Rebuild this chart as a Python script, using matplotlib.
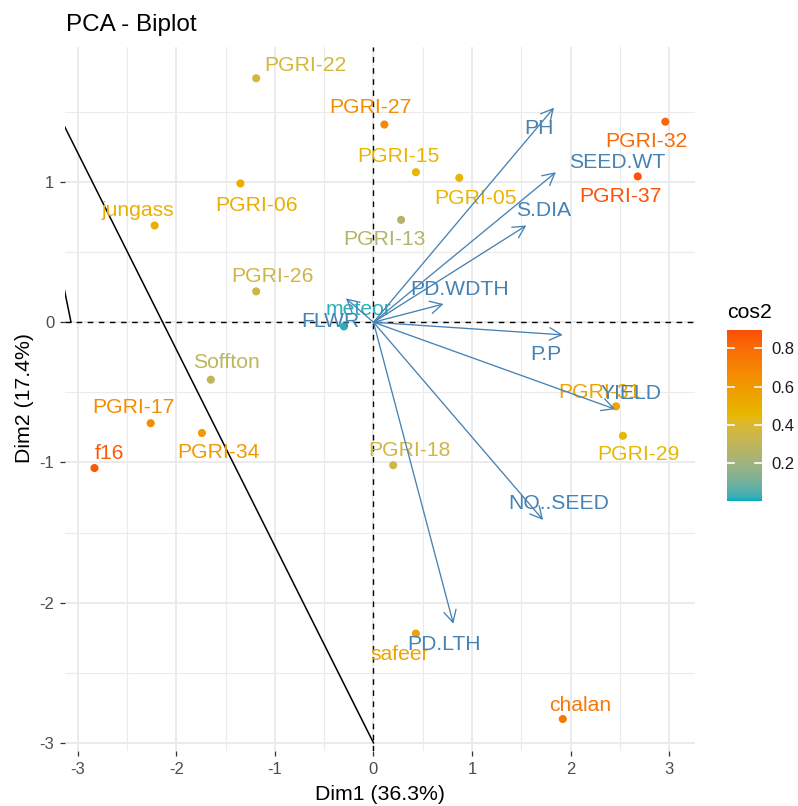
import numpy as np
import matplotlib
matplotlib.use("Agg")
import matplotlib.pyplot as plt
from matplotlib.colors import ListedColormap, Normalize
from matplotlib.cm import ScalarMappable

plt.rcParams['font.family'] = ['Liberation Sans', 'DejaVu Sans']
plt.rcParams['axes.unicode_minus'] = False

# individuals (genotypes) on the first two dimensions
ind_names = ["PGRI-22", "PGRI-27", "PGRI-15", "PGRI-05", "PGRI-32", "PGRI-37",
             "jungass", "PGRI-06", "PGRI-13", "PGRI-26", "meteor", "Soffton",
             "PGRI-17", "PGRI-34", "f16", "PGRI-18", "PGRI-31", "PGRI-29",
             "safeer", "chalan"]
ind_dim1 = [-1.19, 0.11, 0.43, 0.87, 2.96, 2.68,
            -2.22, -1.35, 0.28, -1.19, -0.30, -1.65,
            -2.26, -1.74, -2.83, 0.20, 2.46, 2.53,
            0.43, 1.92]
ind_dim2 = [1.74, 1.41, 1.07, 1.03, 1.43, 1.04,
            0.69, 0.99, 0.73, 0.22, -0.03, -0.41,
            -0.72, -0.79, -1.04, -1.02, -0.60, -0.81,
            -2.22, -2.83]
ind_cos2 = [0.38, 0.66, 0.46, 0.46, 0.80, 0.88,
            0.49, 0.50, 0.26, 0.35, 0.02, 0.30,
            0.66, 0.60, 0.86, 0.36, 0.55, 0.45,
            0.55, 0.74]

# variables (loadings, scaled)
var_names = ["PH", "SEED.WT", "S.DIA", "PD.WDTH", "P.P", "YIELD",
             "NO..SEED", "PD.LTH", "FLWR"]
var_dim1 = [1.83, 1.85, 1.55, 0.71, 1.92, 2.45, 1.72, 0.81, -0.28]
var_dim2 = [1.53, 1.07, 0.69, 0.13, -0.09, -0.62, -1.41, -2.15, 0.17]

# extra reference lines
line1_x = [-3.4, 0.0]
line1_y = [1.77, -3.0]
line2_x = [-3.3, -3.068]
line2_y = [0.80, 0.0]

# label nudges in pixels (dx right, dy down)
ind_nudge = {"PGRI-22": (49, -13), "PGRI-27": (-14, -17), "PGRI-15": (-17, -16),
             "PGRI-05": (16, 21), "PGRI-32": (-19, 20), "PGRI-37": (-17, 20),
             "jungass": (-17, -15), "PGRI-06": (16, 22), "PGRI-13": (-17, 20),
             "PGRI-26": (16, -15), "meteor": (15, -17), "Soffton": (16, -17),
             "PGRI-17": (-17, -16), "PGRI-34": (16, 19), "f16": (15, -15),
             "PGRI-18": (16, -15), "PGRI-31": (-17, -14), "PGRI-29": (16, 19),
             "safeer": (-16, 21), "chalan": (17, -14)}
var_nudge = {"PH": (-15, 21), "SEED.WT": (61, -10), "S.DIA": (17, -15),
             "PD.WDTH": (16, -15), "P.P": (-17, 20), "YIELD": (16, -16),
             "NO..SEED": (16, -16), "PD.LTH": (-9, 21), "FLWR": (-16, 23)}


# gradient interpolated in Lab space
def srgb_to_lab(hexcol):
    rgb = np.array([int(hexcol[i:i + 2], 16) for i in (1, 3, 5)]) / 255.0
    lin = np.where(rgb <= 0.04045, rgb / 12.92, ((rgb + 0.055) / 1.055) ** 2.4)
    m = np.array([[0.4124, 0.3576, 0.1805],
                  [0.2126, 0.7152, 0.0722],
                  [0.0193, 0.1192, 0.9505]])
    xyz = m @ lin / np.array([0.95047, 1.0, 1.08883])
    f = np.where(xyz > 0.008856, np.cbrt(xyz), 7.787 * xyz + 16 / 116)
    return np.array([116 * f[1] - 16, 500 * (f[0] - f[1]), 200 * (f[1] - f[2])])


def lab_to_srgb(lab):
    fy = (lab[0] + 16) / 116
    fx = fy + lab[1] / 500
    fz = fy - lab[2] / 200
    f = np.array([fx, fy, fz])
    xyz = np.where(f ** 3 > 0.008856, f ** 3, (f - 16 / 116) / 7.787)
    xyz = xyz * np.array([0.95047, 1.0, 1.08883])
    m = np.array([[3.2406, -1.5372, -0.4986],
                  [-0.9689, 1.8758, 0.0415],
                  [0.0557, -0.2040, 1.0570]])
    lin = m @ xyz
    rgb = np.where(lin <= 0.0031308, 12.92 * lin, 1.055 * np.clip(lin, 0, None) ** (1 / 2.4) - 0.055)
    return np.clip(rgb, 0, 1)


low, mid, high = srgb_to_lab("#00AFBB"), srgb_to_lab("#E7B800"), srgb_to_lab("#FC4E07")
cols = []
for t in np.linspace(0, 1, 256):
    if t < 0.5:
        lab = low + (mid - low) * (t / 0.5)
    else:
        lab = mid + (high - mid) * ((t - 0.5) / 0.5)
    cols.append(lab_to_srgb(lab))
cmap = ListedColormap(cols)
midpoint = 0.45
half = 0.446
norm = Normalize(vmin=midpoint - half, vmax=midpoint + half)

W, H = 798, 806
fig = plt.figure(figsize=(W / 100, H / 100), dpi=100)
ax = fig.add_axes([65 / W, 1 - 751 / H, 630 / W, 704 / H])
ax.set_xlim(-3.129, 3.261)
ax.set_ylim(-3.058, 1.963)

ax.set_xticks(range(-3, 4))
ax.set_yticks(range(-3, 2))
ax.set_xticks(np.arange(-2.5, 3.0, 1.0), minor=True)
ax.set_yticks(np.arange(-2.5, 2.0, 1.0), minor=True)
ax.grid(which='major', color='#EBEBEB', lw=1.4)
ax.grid(which='minor', color='#EBEBEB', lw=0.8)
ax.set_axisbelow(True)
for s in ax.spines.values():
    s.set_visible(False)
ax.tick_params(which='major', length=3.6, width=0.9, color='#333333',
               labelsize=12, labelcolor='#4D4D4D', pad=4)
ax.tick_params(which='minor', length=0)

ax.axhline(0, color='black', lw=1.0, ls=(0, (4, 4)), zorder=2)
ax.axvline(0, color='black', lw=1.0, ls=(0, (4, 4)), zorder=2)
ax.plot(line1_x, line1_y, color='black', lw=1.1, zorder=2)
ax.plot(line2_x, line2_y, color='black', lw=1.1, zorder=2)

# individuals
point_cols = cmap(norm(np.array(ind_cos2)))
ax.scatter(ind_dim1, ind_dim2, s=34, c=point_cols, zorder=3, linewidths=0)
for name, x, y, c in zip(ind_names, ind_dim1, ind_dim2, point_cols):
    dx, dy = ind_nudge[name]
    ax.annotate(name, (x, y), xytext=(dx * 0.72, -dy * 0.72), textcoords='offset points',
                ha='center', va='center', fontsize=15.2, color=c, zorder=4)

# variables
for name, x, y in zip(var_names, var_dim1, var_dim2):
    ax.annotate('', xy=(x, y), xytext=(0, 0),
                arrowprops=dict(arrowstyle='->,head_length=0.85,head_width=0.45',
                                color='#4682B4', lw=0.95, shrinkA=0, shrinkB=0),
                zorder=5)
    dx, dy = var_nudge[name]
    ax.annotate(name, (x, y), xytext=(dx * 0.72, -dy * 0.72), textcoords='offset points',
                ha='center', va='center', fontsize=15.2, color='#4682B4', zorder=6)

# titles
fig.text(66 / W, 1 - 25 / H, 'PCA - Biplot', fontsize=17.5, ha='left', va='center')
fig.text(380 / W, 1 - 794 / H, 'Dim1 (36.3%)', fontsize=15.3, ha='center', va='center')
fig.text(25 / W, 1 - 398 / H, 'Dim2 (17.4%)', fontsize=15.3, ha='center', va='center',
         rotation=90)

# colour bar legend
cax = fig.add_axes([727 / W, 1 - 500.7 / H, 35 / W, 170.7 / H])
sm = ScalarMappable(norm=norm, cmap=cmap)
cb = fig.colorbar(sm, cax=cax)
cb.outline.set_visible(False)
cb.set_ticks([0.2, 0.4, 0.6, 0.8])
cb.set_ticklabels(['0.2', '0.4', '0.6', '0.8'])
cax.tick_params(length=0, labelsize=12, pad=7, labelcolor='#1A1A1A')
for v in [0.2, 0.4, 0.6, 0.8]:
    cax.plot([0, 0.2], [v, v], color='white', lw=1.2)
    cax.plot([0.8, 1], [v, v], color='white', lw=1.2)
cax.set_xlim(0, 1)
fig.text(727 / W, 1 - 313 / H, 'cos2', fontsize=15.3, ha='left', va='center')

fig.savefig('out.png', dpi=100)
